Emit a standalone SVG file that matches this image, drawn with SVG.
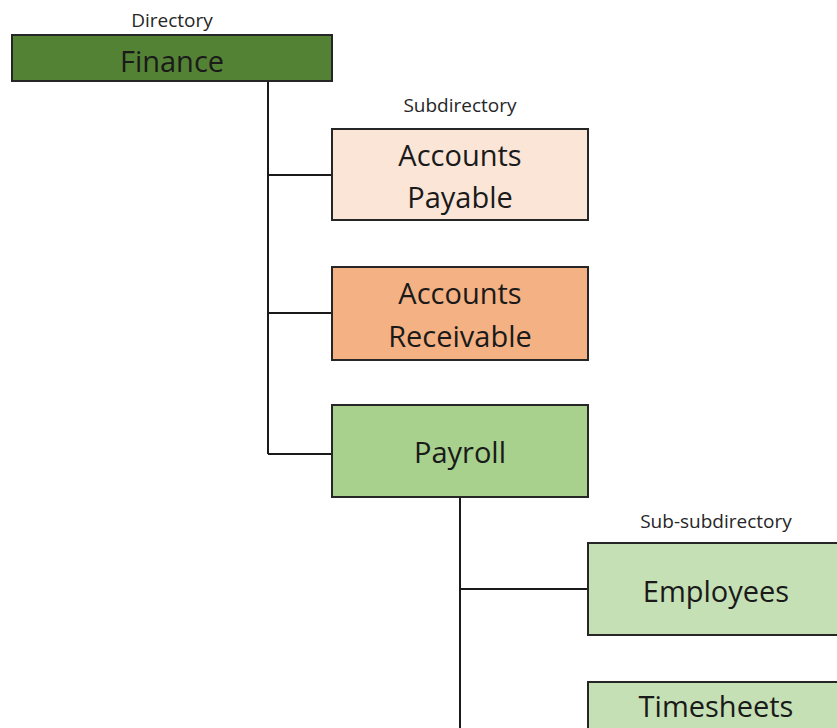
<svg xmlns="http://www.w3.org/2000/svg" width="837" height="728" viewBox="0 0 837 728">
<style>
.box{stroke:#262626;stroke-width:2}
.t{font-family:"Open Sans","Noto Sans",sans-serif;font-size:29px;fill:#1a1a1a;text-anchor:middle}
.lbl{font-family:"Open Sans","Noto Sans",sans-serif;font-size:19px;fill:#262626;text-anchor:middle}
.c{stroke:#1a1a1a;stroke-width:2;fill:none}
</style>
<rect width="837" height="728" fill="#ffffff"/>
<g id="connectors">
<path class="c" d="M268 81V454M268 175H332M268 313H332M268 454H332"/>
<path class="c" d="M460 497V728M460 589H588"/>
</g>
<text class="lbl" x="172" y="27">Directory</text>
<text class="lbl" x="460" y="112">Subdirectory</text>
<text class="lbl" x="716" y="528">Sub-subdirectory</text>
<g id="finance">
<rect class="box" x="12" y="35" width="320" height="46" fill="#548235"/>
<text class="t" x="172" y="72">Finance</text>
</g>
<g id="accounts-payable">
<rect class="box" x="332" y="129" width="256" height="91" fill="#FBE5D6"/>
<text class="t" x="460" y="166">Accounts</text>
<text class="t" x="460" y="208">Payable</text>
</g>
<g id="accounts-receivable">
<rect class="box" x="332" y="267" width="256" height="93" fill="#F4B183"/>
<text class="t" x="460" y="304">Accounts</text>
<text class="t" x="460" y="347">Receivable</text>
</g>
<g id="payroll">
<rect class="box" x="332" y="405" width="256" height="92" fill="#A9D18E"/>
<text class="t" x="460" y="463">Payroll</text>
</g>
<g id="employees">
<rect class="box" x="588" y="543" width="256" height="92" fill="#C5E0B4"/>
<text class="t" x="716" y="602">Employees</text>
</g>
<g id="timesheets">
<rect class="box" x="588" y="682" width="256" height="92" fill="#C5E0B4"/>
<text class="t" x="716" y="717">Timesheets</text>
</g>
</svg>
